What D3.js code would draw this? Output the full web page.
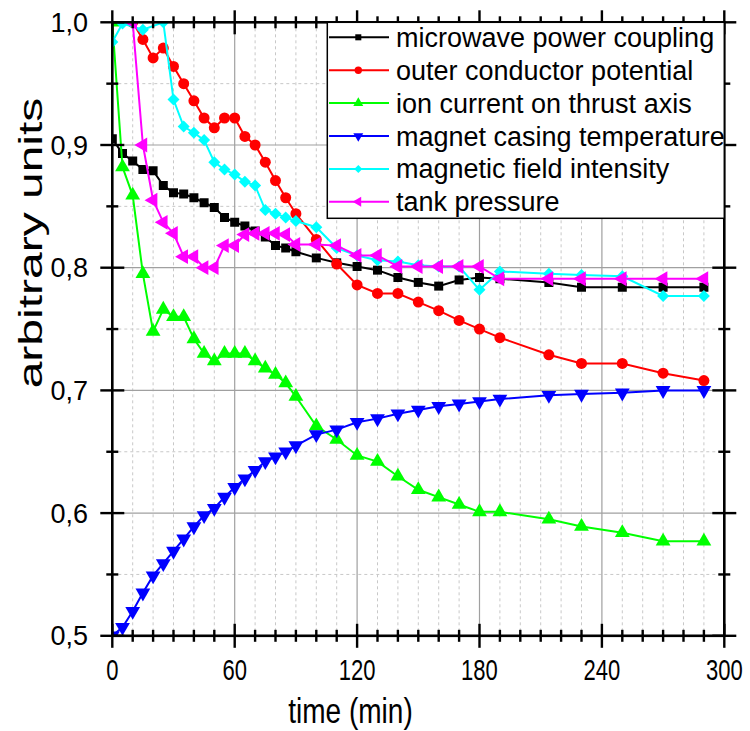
<!DOCTYPE html>
<html><head><meta charset="utf-8">
<script src="https://cdn.jsdelivr.net/npm/d3@7"></script>
<style>body{margin:0;background:#fff}svg{display:block}text{font-family:"Liberation Sans",Arial,sans-serif;fill:#000}</style>
</head><body>
<script>
const times = [0,5,10,15,20,25,30,35,40,45,50,55,60,65,70,75,80,85,90,100,110,120,130,140,150,160,170,180,190,214,230,250,270,290];
const microwave = [0.905,0.893,0.887,0.880,0.879,0.867,0.861,0.860,0.857,0.853,0.849,0.841,0.837,0.834,0.830,0.825,0.818,0.816,0.813,0.808,0.804,0.801,0.798,0.792,0.788,0.785,0.790,0.792,0.791,0.788,0.784,0.784,0.784,0.784];
const outerPotential = [null,null,1.0,0.986,0.971,0.979,0.964,0.950,0.936,0.922,0.914,0.922,0.922,0.907,0.900,0.886,0.871,0.857,0.844,0.823,0.803,0.786,0.779,0.779,0.772,0.765,0.757,0.750,0.743,0.729,0.722,0.722,0.714,0.708];
const ionCurrent = [1.0,0.882,0.859,0.795,0.748,0.766,0.760,0.760,0.742,0.730,0.724,0.730,0.730,0.730,0.724,0.718,0.713,0.706,0.695,0.671,0.660,0.647,0.642,0.630,0.619,0.613,0.607,0.601,0.601,0.595,0.589,0.584,0.577,0.577];
const magnetTemp = [0.500,0.507,0.520,0.535,0.549,0.559,0.569,0.579,0.589,0.598,0.604,0.613,0.621,0.628,0.635,0.642,0.646,0.650,0.655,0.664,0.668,0.674,0.677,0.681,0.684,0.687,0.689,0.691,0.693,0.696,0.697,0.698,0.700,0.700];
const fieldIntensity = [0.984,0.999,null,0.994,null,1.0,0.937,0.915,0.910,0.904,0.886,0.880,0.876,0.870,0.867,0.847,0.844,0.841,0.838,0.833,0.816,0.810,0.806,0.805,0.802,0.801,0.801,0.782,0.797,0.795,0.794,0.793,0.777,0.777];
const tankPressure = [null,null,1.0,0.900,0.855,0.837,0.828,0.809,0.809,0.800,0.800,0.818,0.818,0.827,0.828,0.828,0.828,0.827,0.819,0.819,0.818,0.810,0.810,0.801,0.801,0.801,0.801,0.801,0.791,0.791,0.791,0.791,0.791,0.791];
const seriesNames = ["microwave power coupling","outer conductor potential","ion current on thrust axis","magnet casing temperature","magnetic field intensity","tank pressure"];
const seriesColors = ["#000000","#ff0000","#00ff00","#0000ff","#00ffff","#ff00ff"];
const xTicks = [0,60,120,180,240,300];
const yTicks = [0.5,0.6,0.7,0.8,0.9,1.0];
const yTickLabels = ["0,5","0,6","0,7","0,8","0,9","1,0"];

const seriesValues = [microwave,outerPotential,ionCurrent,magnetTemp,fieldIntensity,tankPressure];
const W=750,H=731;
const L=112.3,R=724.3,T=22.3,B=635.8;
const x=d3.scaleLinear().domain([0,300]).range([L,R]);
const y=d3.scaleLinear().domain([0.5,1.0]).range([B,T]);
const svg=d3.select("body").append("svg").attr("width",W).attr("height",H);

// grid
const g=svg.append("g");
const minorX=d3.range(10,300,10).filter(v=>v%60!==0);
const minorY=[0.55,0.65,0.75,0.85,0.95];
g.selectAll(".mx").data(minorX).join("line").attr("x1",d=>x(d)).attr("x2",d=>x(d)).attr("y1",T).attr("y2",B)
 .attr("stroke","#c8c8c8").attr("stroke-width",1).attr("stroke-dasharray","3,3");
g.selectAll(".my").data(minorY).join("line").attr("y1",d=>y(d)).attr("y2",d=>y(d)).attr("x1",L).attr("x2",R)
 .attr("stroke","#c8c8c8").attr("stroke-width",1).attr("stroke-dasharray","3,3");
g.selectAll(".Mx").data(xTicks.slice(1,-1)).join("line").attr("x1",d=>x(d)).attr("x2",d=>x(d)).attr("y1",T).attr("y2",B)
 .attr("stroke","#a0a0a0").attr("stroke-width",1.2);
g.selectAll(".My").data(yTicks.slice(1,-1)).join("line").attr("y1",d=>y(d)).attr("y2",d=>y(d)).attr("x1",L).attr("x2",R)
 .attr("stroke","#a0a0a0").attr("stroke-width",1.2);

svg.append("clipPath").attr("id","clip").append("rect").attr("x",L).attr("y",T).attr("width",R-L).attr("height",B-T);

const symbols=[d3.symbolSquare,d3.symbolCircle,d3.symbolTriangle,d3.symbolTriangle,d3.symbolSquare,d3.symbolTriangle];
const rot=[0,0,0,180,45,-90];
const sizes=[81,95,95,95,72,95];
const plot=svg.append("g").attr("clip-path","url(#clip)");
seriesValues.forEach((vals,i)=>{
  const pts=times.map((t,j)=>({t,v:vals[j]}));
  const line=d3.line().defined(d=>d.v!=null).x(d=>x(d.t)).y(d=>y(d.v));
  plot.append("path").datum(pts.filter(d=>d.v!=null)).attr("d",line).attr("fill","none")
    .attr("stroke",seriesColors[i]).attr("stroke-width",2);
  plot.selectAll(null).data(pts.filter(d=>d.v!=null)).join("path")
    .attr("d",d3.symbol().type(symbols[i]).size(sizes[i]))
    .attr("transform",d=>`translate(${x(d.t)},${y(d.v)}) rotate(${rot[i]})`)
    .attr("fill",seriesColors[i]);
});

// axes
const ax=svg.append("g").attr("stroke","#000");
ax.append("rect").attr("x",L).attr("y",T).attr("width",R-L).attr("height",B-T).attr("fill","none").attr("stroke-width",2.6);
const allX=d3.range(0,301,10);
allX.forEach(v=>{
  const major=v%60===0, h=major?12:6;
  ax.append("line").attr("x1",x(v)).attr("x2",x(v)).attr("y1",B-h).attr("y2",B+h).attr("stroke-width",2.4);
  ax.append("line").attr("x1",x(v)).attr("x2",x(v)).attr("y1",T-h).attr("y2",T+h).attr("stroke-width",2.4);
});
const allY=d3.range(0,11).map(k=>0.5+k*0.05);
allY.forEach((v,k)=>{
  const major=k%2===0, h=major?12:6;
  ax.append("line").attr("y1",y(v)).attr("y2",y(v)).attr("x1",L-h).attr("x2",L+h).attr("stroke-width",2.4);
  ax.append("line").attr("y1",y(v)).attr("y2",y(v)).attr("x1",R-h).attr("x2",R+h).attr("stroke-width",2.4);
});
// tick labels
svg.selectAll(".xl").data(xTicks).join("text")
  .attr("transform",d=>`translate(${x(d)},680) scale(0.76,1)`)
  .attr("text-anchor","middle").attr("font-size",29).text(d=>d);
svg.selectAll(".yl").data(yTicks).join("text")
  .attr("x",88).attr("y",d=>y(d)+9.5).attr("text-anchor","end").attr("font-size",27)
  .text((d,i)=>yTickLabels[i]);
svg.append("text").attr("transform","translate(350.5,723) scale(0.8,1)").attr("text-anchor","middle")
  .attr("font-size",35).text("time (min)");
svg.append("text").attr("transform","translate(42,243) scale(0.68,1) rotate(-90)").attr("text-anchor","middle")
  .attr("font-size",48).text("arbitrary units");

// legend
const lg=svg.append("g");
lg.append("rect").attr("x",327.3).attr("y",T).attr("width",R-327.3).attr("height",218.3-T)
  .attr("fill","#fff").attr("stroke","#000").attr("stroke-width",1.5);
seriesNames.forEach((n,i)=>{
  const cy=37.3+i*32.9;
  lg.append("line").attr("x1",329).attr("x2",389).attr("y1",cy).attr("y2",cy).attr("stroke",seriesColors[i]).attr("stroke-width",2);
  lg.append("path").attr("d",d3.symbol().type(symbols[i]).size(sizes[i]*0.45))
    .attr("transform",`translate(358.3,${cy}) rotate(${rot[i]})`).attr("fill",seriesColors[i]);
  lg.append("text").attr("x",396).attr("y",cy+9.5).attr("font-size",27).text(n);
});
</script>
</body></html>
